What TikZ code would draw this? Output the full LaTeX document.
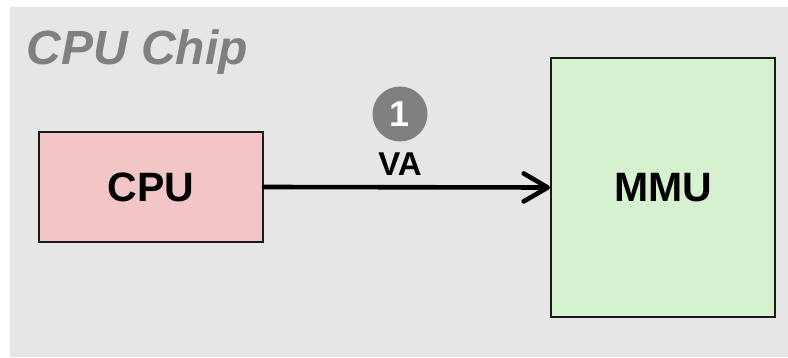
\documentclass[tikz,border=0pt]{standalone}
\usepackage{fontspec}
\setmainfont{Liberation Sans}
\usetikzlibrary{arrows.meta}
\definecolor{bggray}{HTML}{E6E6E6}
\definecolor{cpupink}{HTML}{F2C6C6}
\definecolor{mmugreen}{HTML}{D5F1D0}
\definecolor{darkgray}{HTML}{808080}
\begin{document}
\begin{tikzpicture}[x=1pt,y=1pt,
  unitbox/.style={draw=black!90, line width=2pt, inner sep=0pt, font=\fontsize{41}{45}\selectfont\bfseries},
  stepnum/.style={circle, fill=darkgray, minimum size=55pt, inner sep=0pt, text=white, font=\fontsize{36}{38}\selectfont\bfseries},
  conn/.style={line width=4.6pt, line cap=round, line join=round, -{Straight Barb[length=24pt,width=28pt,line cap=round,line join=round]}}]
\useasboundingbox (0,0) rectangle (788,357);
\fill[bggray] (10,0) rectangle (788,350);
\node[anchor=base west, text=darkgray, font=\fontsize{48}{52}\selectfont\bfseries\itshape] (chip) at (23,292) {CPU Chip};
\node[unitbox, fill=cpupink, minimum width=224pt, minimum height=110pt] (cpu) at (151,170) {CPU};
\node[unitbox, fill=mmugreen, minimum width=224pt, minimum height=259pt] (mmu) at (663,169.5) {MMU};
\node[stepnum] (one) at (400,243) {1};
\node[font=\fontsize{33}{36}\selectfont\bfseries, inner sep=0pt] (va) at (400,192.5) {VA};
\draw[conn] (cpu.east) -- (mmu.west);
\end{tikzpicture}
\end{document}
